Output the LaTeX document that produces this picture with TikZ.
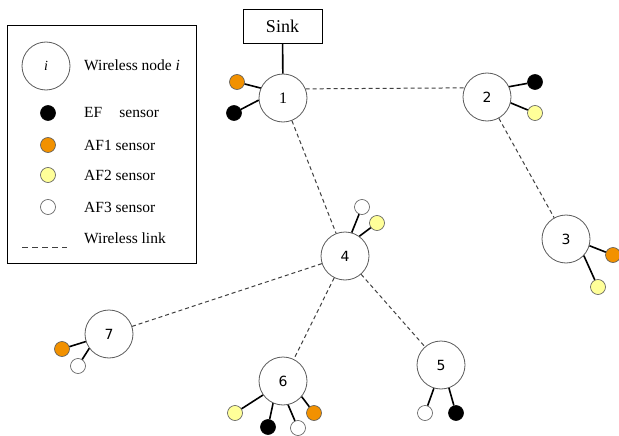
\documentclass[tikz,border=0pt]{standalone}
\usepackage{fontspec}
\setmainfont{Liberation Serif}
\newfontfamily\numfont{DejaVu Sans}
\usepackage{xcolor}
\usetikzlibrary{positioning}
\definecolor{efcolor}{RGB}{0, 0, 0}
\definecolor{afonecolor}{RGB}{242, 145, 0}
\definecolor{aftwocolor}{RGB}{255, 255, 153}
\definecolor{afthreecolor}{RGB}{255, 255, 255}
\definecolor{rimcolor}{RGB}{90, 90, 90}

\tikzset{
  wnode/.style={circle, draw=rimcolor, fill=white, line width=0.8pt,
                minimum size=48pt, inner sep=0pt, font=\numfont\fontsize{14}{16}\selectfont},
  sensor/.style={circle, draw=rimcolor, line width=0.6pt, minimum size=15pt, inner sep=0pt},
  ef/.style={sensor, fill=efcolor, draw=efcolor},
  afone/.style={sensor, fill=afonecolor},
  aftwo/.style={sensor, fill=aftwocolor},
  afthree/.style={sensor, fill=afthreecolor},
  wlink/.style={draw=black!75, dash pattern=on 4pt off 3pt, line width=1pt},
  wire/.style={draw=black, line width=1.6pt},
  legtext/.style={anchor=west, inner sep=0pt, font=\fontsize{15.5}{18}\selectfont}
}

\begin{document}
\begin{tikzpicture}[x=1pt, y=-1pt]
        \useasboundingbox (0,0) rectangle (619,436);

        % legend
        \draw[line width=0.6pt] (7,25) rectangle (196,263);
        \node[wnode, font=\fontsize{14}{16}\selectfont] (legnode) at (46,66) {\textit{i}};
        \node[legtext] (legnodetxt) at (84,65) {Wireless node \textit{i}};
        \node[ef] (legef) at (48,113) {};
        \node[legtext] (legeftxt) at (84,113) {EF\hspace{1.1em}sensor};
        \node[afone] (legafone) at (48,145) {};
        \node[legtext] (legafonetxt) at (84,145) {AF1 sensor};
        \node[aftwo] (legaftwo) at (48,175) {};
        \node[legtext] (legaftwotxt) at (84,175) {AF2 sensor};
        \node[afthree] (legafthree) at (48,207) {};
        \node[legtext] (legafthreetxt) at (84,207) {AF3 sensor};
        \coordinate (leglinea) at (22,247);
        \coordinate (leglineb) at (67,247);
        \draw[wlink, dash pattern=on 6pt off 4pt] (leglinea) -- (leglineb);
        \node[legtext] (leglinktxt) at (84,238) {Wireless link};

        % sink
        \node[draw, line width=0.6pt, fill=white, minimum width=79pt, minimum height=34pt,
              font=\fontsize{18}{20}\selectfont] (sink) at (282.5,26) {Sink};

        % wireless nodes
        \node[wnode, font=\fontsize{16}{18}\selectfont] (n1) at (283,98) {1};
        \node[wnode] (n2) at (487,97) {2};
        \node[wnode] (n3) at (566,239) {3};
        \node[wnode] (n4) at (345,256) {4};
        \node[wnode] (n5) at (441,365) {5};
        \node[wnode] (n6) at (283,381) {6};
        \node[wnode] (n7) at (109,334) {7};

        % wireless links
        \draw[wire] (sink) -- (n1);
        \draw[wlink] (n1.22) -- (n2.158);
        \draw[wlink] (n1) -- (n4);
        \draw[wlink] (n2) -- (n3);
        \draw[wlink] (n4) -- (n7);
        \draw[wlink] (n4) -- (n6);
        \draw[wlink] (n4) -- (n5);

        % sensors
        \node[afone] (s1a) at (237,82) {};
        \node[ef] (s1b) at (234,113) {};
        \node[ef] (s2a) at (535,82) {};
        \node[aftwo] (s2b) at (535,113) {};
        \node[afone] (s3a) at (613,255) {};
        \node[aftwo] (s3b) at (598,287) {};
        \node[afthree] (s4a) at (362,207) {};
        \node[aftwo] (s4b) at (377,223) {};
        \node[afone] (s7a) at (62,349) {};
        \node[afthree] (s7b) at (78,366) {};
        \node[aftwo] (s6a) at (235,413) {};
        \node[ef] (s6b) at (268,427) {};
        \node[afthree] (s6c) at (298,428) {};
        \node[afone] (s6d) at (314,413) {};
        \node[afthree] (s5a) at (425,413) {};
        \node[ef] (s5b) at (456,413) {};

        \draw[wire] (s1a) -- (n1.156);
        \draw[wire] (s1b) -- (n1.185);
        \draw[wire] (s2a) -- (n2.25);
        \draw[wire] (s2b) -- (n2.-14);
        \draw[wire] (s3a) -- (n3.-16);
        \draw[wire] (s3b) -- (n3.-43);
        \draw[wire] (s4a) -- (n4.74);
        \draw[wire] (s4b) -- (n4.54);
        \draw[wire] (s7a) -- (n7.198);
        \draw[wire] (s7b) -- (n7.216);
        \draw[wire] (s6a) -- (n6.215);
        \draw[wire] (s6b) -- (n6.246);
        \draw[wire] (s6c) -- (n6.282);
        \draw[wire] (s6d) -- (n6.320);
        \draw[wire] (s5a) -- (n5.253);
        \draw[wire] (s5b) -- (n5.289);
      \end{tikzpicture}
\end{document}
